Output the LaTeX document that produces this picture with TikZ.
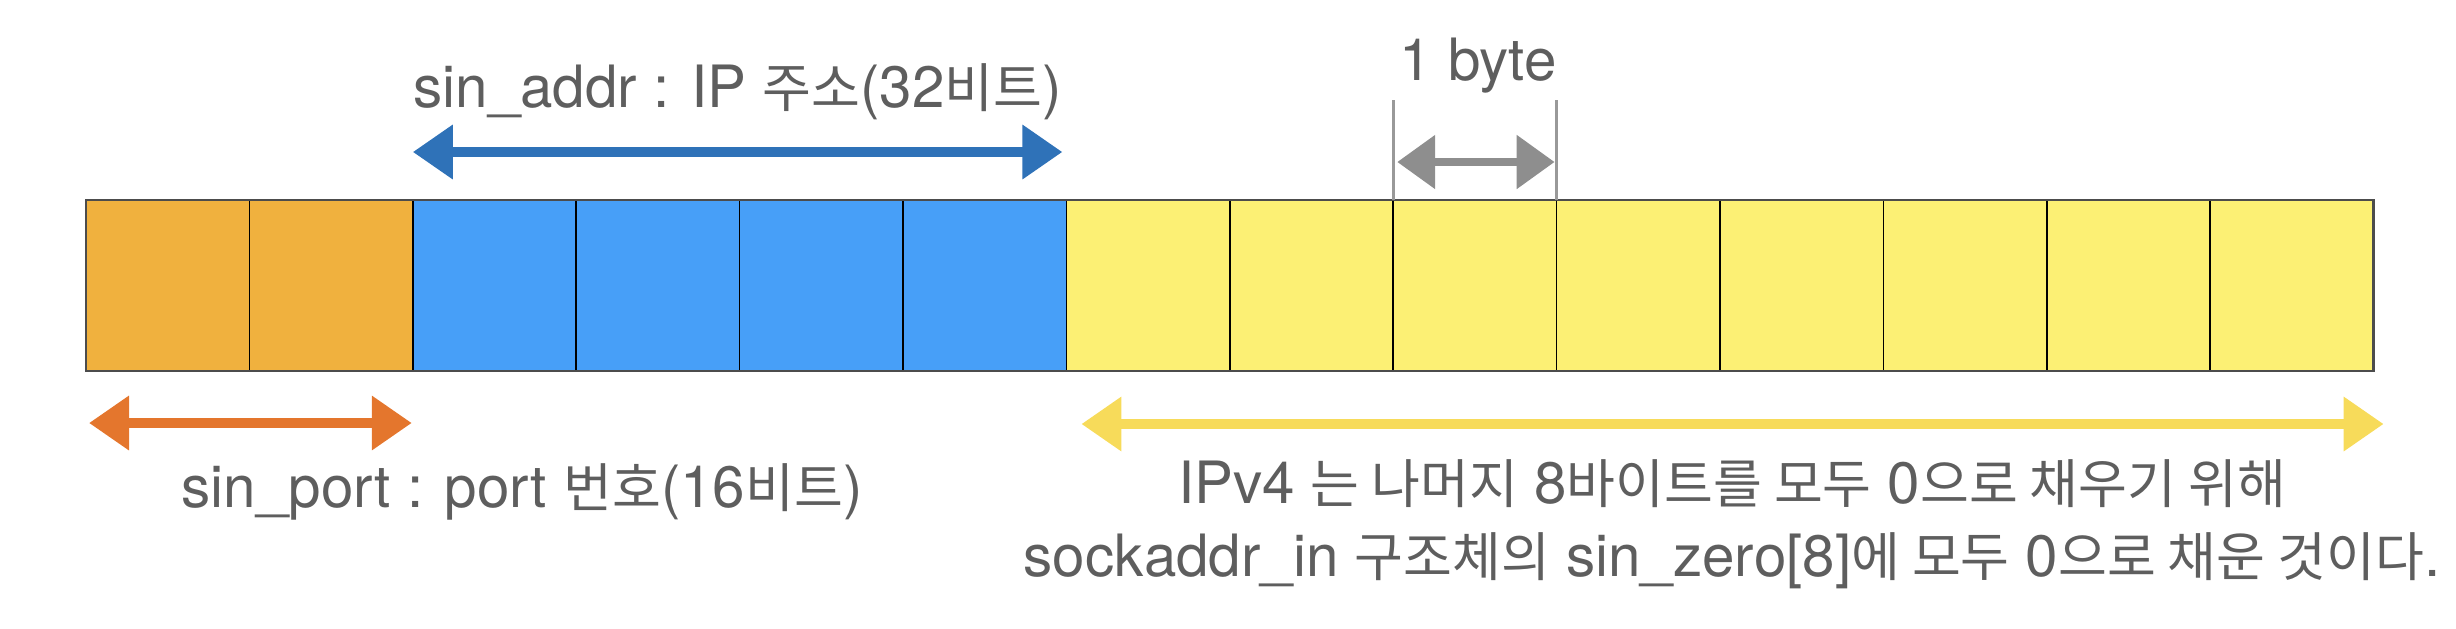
\documentclass[tikz,border=0pt]{standalone}
\usepackage{fontspec}
\setmainfont{TeX Gyre Heros}
\newfontfamily\krfont[Scale=0.91]{Noto Sans CJK KR}
\usetikzlibrary{arrows.meta,calc}
\definecolor{cOrange}{HTML}{F0B13E}
\definecolor{cBlue}{HTML}{479FF8}
\definecolor{cYellow}{HTML}{FCF074}
\definecolor{aBlue}{HTML}{2F72B8}
\definecolor{aOrange}{HTML}{E4762D}
\definecolor{aGray}{HTML}{8E8E8E}
\definecolor{aYellow}{HTML}{F7DB5A}
\definecolor{txt}{HTML}{5E5E5E}
\newcommand{\K}[1]{{\krfont #1}}
\tikzset{
  cell/.style={draw=black, line width=0.45pt, minimum width=49.02pt, minimum height=51.3pt, inner sep=0pt, outer sep=0pt},
  frame/.style={draw=black!70, line width=0.8pt},
  dblarrow/.style={line width=3pt, {Triangle[length=12pt,width=15.6pt]}-{Triangle[length=12pt,width=15.6pt]}},
  tick/.style={draw=aGray!90, line width=1pt},
  lbl/.style={text=txt, font=\fontsize{17.5}{20}\selectfont, inner sep=0pt}
}
\begin{document}
\begin{tikzpicture}[x=0.3pt,y=-0.3pt]
\useasboundingbox (0,0) rectangle (2456,628);
\foreach \i/\col in {1/cOrange,2/cOrange,3/cBlue,4/cBlue,5/cBlue,6/cBlue,7/cYellow,8/cYellow,9/cYellow,10/cYellow,11/cYellow,12/cYellow,13/cYellow,14/cYellow}
  \node[cell, fill=\col] (c\i) at ({86+(\i-0.5)*163.4}, 285.5) {};
\draw[frame] (c1.north west) rectangle (c14.south east);

% blue arrow
\coordinate (bL) at ($(c3.north west)+(0,-48)$);
\coordinate (bR) at ($(c6.north east)+(-4,-48)$);
\draw[dblarrow, aBlue] (bL) -- (bR);
\node[lbl, anchor=base] (addr) at ($(c4.north east)+(-2,-93)$) {sin\_addr : IP \K{주소}(32\K{비트})};

% gray 1 byte
\coordinate (gT1) at ($(c9.north west)+(0,-100)$);
\coordinate (gT2) at ($(c9.north east)+(0,-100)$);
\draw[tick] (gT1) -- (c9.north west);
\draw[tick] (gT2) -- (c9.north east);
\coordinate (gL) at ($(c9.north west)+(4,-38)$);
\coordinate (gR) at ($(c9.north east)+(-2,-38)$);
\draw[aGray, line width=2.6pt, {Triangle[length=11.4pt,width=15.6pt]}-{Triangle[length=11.4pt,width=15.6pt]}] (gL) -- (gR);
\node[lbl, anchor=base] (byte) at ($(c9.north)+(3,-120)$) {1 byte};

% orange arrow
\coordinate (oL) at ($(c1.south west)+(3,52)$);
\coordinate (oR) at ($(c2.south east)+(-1,52)$);
\draw[dblarrow, aOrange] (oL) -- (oR);
\node[lbl, anchor=base west] (port) at (181,507) {sin\_port : port \K{번호}(16\K{비트})};

% yellow arrow
\coordinate (yL) at ($(c7.south west)+(15,53)$);
\coordinate (yR) at ($(c14.south east)+(10,53)$);
\draw[dblarrow, aYellow] (yL) -- (yR);
\node[lbl, anchor=base] (z1) at (1732,503) {IPv4 \K{는 나머지} 8\K{바이트를 모두} 0\K{으로 채우기 위해}};
\node[lbl, anchor=base] (z2) at (1732,576) {sockaddr\_in \K{구조체의} sin\_zero[8]\K{에 모두} 0\K{으로 채운 것이다}.};
\end{tikzpicture}
\end{document}
